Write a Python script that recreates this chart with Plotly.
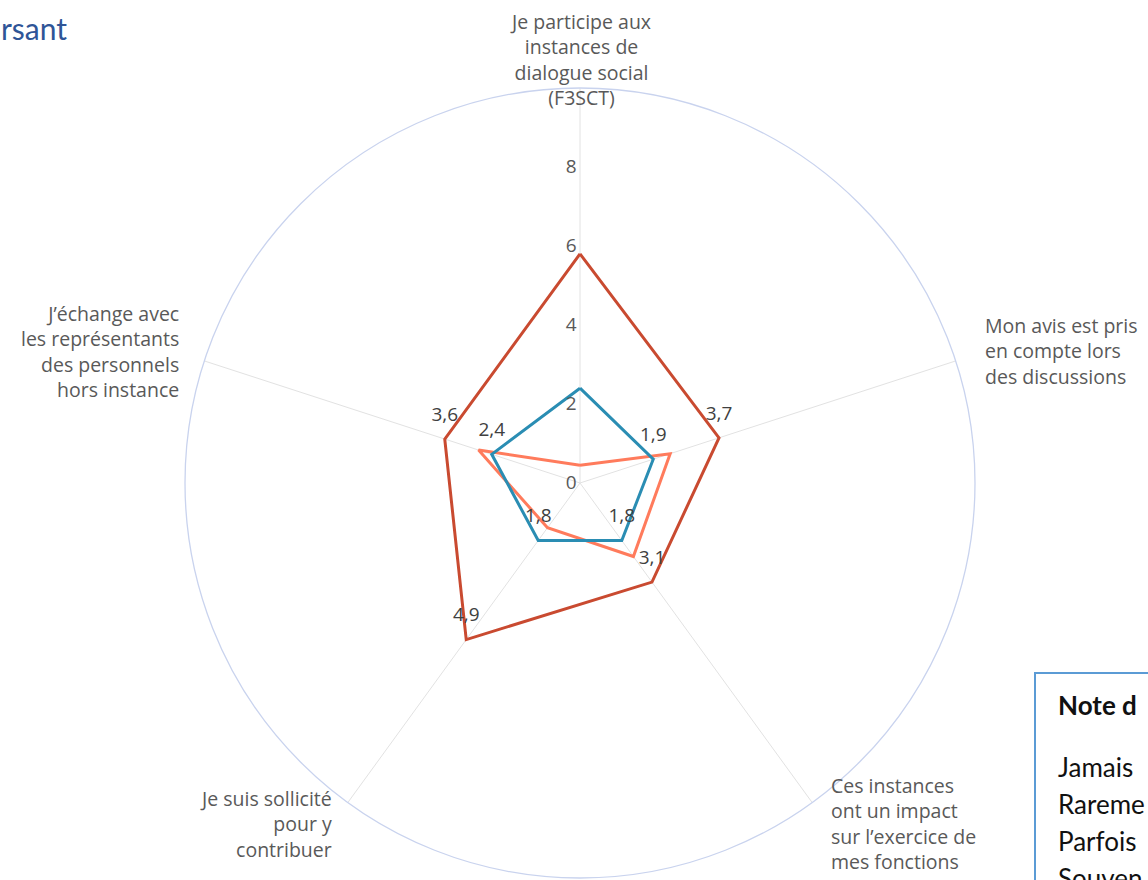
import plotly.graph_objects as go

W, H = 1148, 880

categories = [
    "Je participe aux<br>instances de<br>dialogue social<br>(F3SCT)",
    "Mon avis est pris<br>en compte lors<br>des discussions",
    "Ces instances<br>ont un impact<br>sur l’exercice de<br>mes fonctions",
    "Je suis sollicité<br>pour y<br>contribuer",
    "J’échange avec<br>les représentants<br>des personnels<br>hors instance",
]
cat_ids = ["c1", "c2", "c3", "c4", "c5"]

serie_rouge = [5.8, 3.7, 3.1, 4.9, 3.6]
labels_rouge = ["", "3,7", "3,1", "4,9", "3,6"]
serie_bleue = [2.4, 1.95, 1.8, 1.8, 2.35]
labels_bleue = ["", "1,9", "1,8", "1,8", "2,4"]
serie_orange = [0.45, 2.4, 2.3, 1.4, 2.7]

radial_ticks = [0, 2, 4, 6, 8]

titre = "rsant"
note_titre = "Note d"
note_lignes = ["Jamais", "Rareme", "Parfois", "Souven"]

FONT = "Open Sans"


def closed(v):
    return list(v) + [v[0]]


fig = go.Figure()
fig.add_trace(go.Scatterpolar(
    r=closed(serie_orange), theta=closed(cat_ids), mode="lines",
    line=dict(color="#FF7B5C", width=3), name="orange", hoverinfo="skip"))
fig.add_trace(go.Scatterpolar(
    r=closed(serie_bleue), theta=closed(cat_ids), mode="lines+markers+text",
    text=closed(labels_bleue), textposition="top center",
    textfont=dict(family=FONT, size=19, color="#404040"),
    marker=dict(size=20, color="rgba(0,0,0,0)"),
    line=dict(color="#2A8DB3", width=3), name="bleu", hoverinfo="skip"))
fig.add_trace(go.Scatterpolar(
    r=closed(serie_rouge), theta=closed(cat_ids), mode="lines+markers+text",
    text=closed(labels_rouge), textposition="top center",
    textfont=dict(family=FONT, size=19, color="#404040"),
    marker=dict(size=20, color="rgba(0,0,0,0)"),
    line=dict(color="#C94A30", width=3), name="rouge", hoverinfo="skip"))

cx, cy, R = 580, 483, 395
fig.update_layout(
    width=W, height=H,
    margin=dict(l=0, r=0, t=0, b=0),
    paper_bgcolor="white", plot_bgcolor="white",
    showlegend=False,
    font=dict(family=FONT, color="#595959"),
    polar=dict(
        domain=dict(x=[(cx - R) / W, (cx + R) / W], y=[1 - (cy + R) / H, 1 - (cy - R) / H]),
        bgcolor="white",
        radialaxis=dict(range=[0, 10], tickvals=radial_ticks, ticktext=[str(t) for t in radial_ticks],
                        showgrid=False, showline=False, ticks="", angle=90, side="counterclockwise",
                        tickangle=90, tickfont=dict(family=FONT, size=19, color="#595959")),
        angularaxis=dict(direction="clockwise", rotation=90, categoryorder="array",
                         categoryarray=cat_ids, showticklabels=False, ticks="",
                         showgrid=True, gridcolor="#E2E2E2", gridwidth=1,
                         showline=True, linecolor="#C9D3EE", linewidth=1.3),
    ),
)


def px(x):
    return x / W


def py(y):
    return 1 - y / H


lab_font = dict(family=FONT, size=19.5, color="#595959")
# (anchor x, centre y, xanchor)
positions = [
    (580, 60, "center"),
    (984, 351, "left"),
    (830, 823, "left"),
    (333, 824, "right"),
    (180, 351, "right"),
]
for cat, (x, y, xa) in zip(categories, positions):
    fig.add_annotation(x=px(x), y=py(y), xref="paper", yref="paper", text=cat,
                       showarrow=False, xanchor=xa, yanchor="middle", align=xa,
                       borderpad=0, font=lab_font)

fig.add_annotation(x=0, y=py(28), xref="paper", yref="paper", text=titre,
                   showarrow=False, xanchor="left", yanchor="middle", borderpad=0,
                   font=dict(family="Lato", size=30, color="#2F5597"))

fig.add_shape(type="rect", xref="paper", yref="paper",
              x0=px(1035), x1=px(1200), y0=py(950), y1=py(673),
              line=dict(color="#5B9BD5", width=2), fillcolor="rgba(0,0,0,0)")
fig.add_annotation(x=px(1057), y=py(705), xref="paper", yref="paper",
                   text="<b>" + note_titre + "</b>", showarrow=False,
                   xanchor="left", yanchor="middle", borderpad=0,
                   font=dict(family="Lato", size=26, color="#111111"))
for i, t in enumerate(note_lignes):
    fig.add_annotation(x=px(1057), y=py(767 + i * 37), xref="paper", yref="paper",
                       text=t, showarrow=False, xanchor="left", yanchor="middle",
                       borderpad=0, font=dict(family="Lato", size=26, color="#111111"))

fig.write_html("out.html", config={"displayModeBar": False},
               post_script="document.body.style.margin='0';")
